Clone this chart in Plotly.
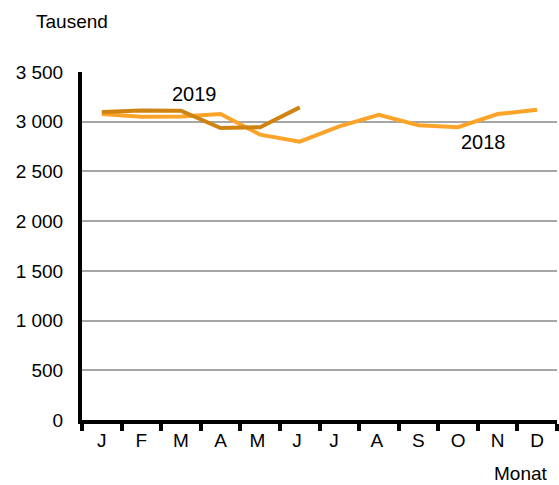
import plotly.graph_objects as go

months = ["J", "F", "M", "A", "M ", "J ", "J  ", "A ", "S", "O", "N", "D"]
values_2018 = [3078, 3050, 3053, 3077, 2870, 2800, 2953, 3070, 2965, 2945, 3077, 3120]
values_2019 = [3097, 3113, 3110, 2937, 2945, 3144]
ytick_vals = [0, 500, 1000, 1500, 2000, 2500, 3000, 3500]
ytick_text = ["0", "500", "1 000", "1 500", "2 000", "2 500", "3 000", "3 500"]

font = "Liberation Sans, Arial, sans-serif"

fig = go.Figure()
fig.add_trace(go.Scatter(x=months, y=values_2018, mode="lines",
                         line=dict(color="#FBA429", width=4), name="2018"))
fig.add_trace(go.Scatter(x=months[:len(values_2019)], y=values_2019, mode="lines",
                         line=dict(color="#CF8412", width=4), name="2019"))

fig.update_layout(
    width=559, height=485,
    margin=dict(l=82, r=2, t=72, b=65),
    plot_bgcolor="white", paper_bgcolor="white",
    showlegend=False,
    font=dict(family=font, size=19, color="black"),
    xaxis=dict(type="category", categoryorder="array", categoryarray=months,
               range=[-0.5, 11.5], tickson="boundaries", ticks="outside",
               ticklen=7, tickwidth=4, tickcolor="black",
               showline=True, linecolor="black", linewidth=4,
               showgrid=False, ticklabelstandoff=0, automargin=False,
               tickfont=dict(size=19)),
    yaxis=dict(range=[0, 3500], tickvals=ytick_vals, ticktext=ytick_text,
               showgrid=True, gridcolor="#A6A6A6", gridwidth=1.5,
               showline=True, linecolor="black", linewidth=4,
               ticks="", ticklabelstandoff=11, zeroline=False, automargin=False,
               tickfont=dict(size=19)),
    annotations=[
        dict(x=2.35, y=3280, xref="x", yref="y", text="2019", showarrow=False,
             font=dict(size=20)),
        dict(x=9.65, y=2795, xref="x", yref="y", text="2018", showarrow=False,
             font=dict(size=20)),
        dict(x=-0.021, y=1.144, xref="paper", yref="paper", text="Tausend",
             xanchor="center", yanchor="middle",
             showarrow=False, font=dict(size=19)),
        dict(x=0.924, y=-0.155, xref="paper", yref="paper", text="Monat",
             xanchor="center", yanchor="middle",
             showarrow=False, font=dict(size=19)),
    ],
)

fig.write_html("out.html", post_script="document.body.style.margin='0';",
               config={"displayModeBar": False})
